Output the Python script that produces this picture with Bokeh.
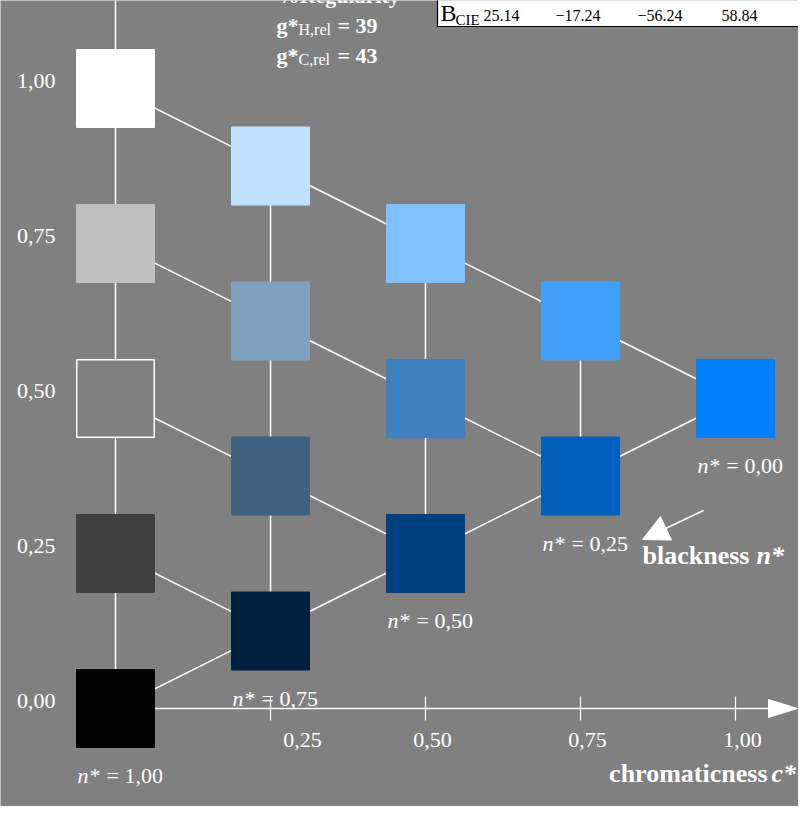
from bokeh.plotting import figure
from bokeh.models import Range1d, Arrow, NormalHead
from bokeh.core.properties import value
from bokeh.embed import file_html
from bokeh.resources import INLINE

# ---------------- data ----------------
chroma = [0.0, 0.0, 0.0, 0.0, 0.0,
          0.25, 0.25, 0.25, 0.25,
          0.5, 0.5, 0.5,
          0.75, 0.75,
          1.0]
lightness = [1.0, 0.75, 0.5, 0.25, 0.0,
             0.875, 0.625, 0.375, 0.125,
             0.75, 0.5, 0.25,
             0.625, 0.375,
             0.5]
blackness = [0.0, 0.25, 0.5, 0.75, 1.0,
             0.0, 0.25, 0.5, 0.75,
             0.0, 0.25, 0.5,
             0.0, 0.25,
             0.0]
colors = ["#ffffff", "#c0c0c0", "#808080", "#404040", "#000000",
          "#c0e0ff", "#80a0c0", "#406080", "#002040",
          "#80c0ff", "#4080c0", "#004080",
          "#40a0ff", "#0060c0",
          "#0080ff"]
x_ticks = [0.25, 0.5, 0.75, 1.0]
y_ticks = [0.0, 0.25, 0.5, 0.75, 1.0]
reg_subscripts = ["H,rel", "C,rel"]
reg_values = [39, 43]
table_values = ["25.14", "\u221217.24", "\u221256.24", "58.84"]

# ---------------- layout helpers (picture pixel -> data) ----------------
BG = "#808080"
FONT = value("Liberation Serif")
X0, Y0, S = 115.0, 708.0, 620.0


def X(px):
    return (px - X0) / S


def Y(py):
    return (Y0 - py) / S


def fmt(v):
    return f"{v:.2f}".replace(".", ",")


W, H = 798, 806
p = figure(width=W, height=H, output_backend="svg", toolbar_location=None,
           x_range=Range1d(X(0), X(W)), y_range=Range1d(Y(H), Y(0)),
           x_axis_type=None, y_axis_type=None, min_border=0,
           background_fill_color=BG, border_fill_color=BG, outline_line_color=None)
p.xgrid.visible = False
p.ygrid.visible = False

# ---------------- connecting lines ----------------
xs, ys = [], []
for c in sorted(set(chroma)):
    ls = [l for cc, l in zip(chroma, lightness) if cc == c]
    if c == 0:
        xs.append([c, c]); ys.append([min(ls), Y(-20)])
    else:
        xs.append([c, c]); ys.append([min(ls), max(ls)])
for n in sorted(set(blackness)):
    pts = sorted((cc, l) for cc, l, nn in zip(chroma, lightness, blackness) if nn == n)
    if len(pts) > 1:
        xs.append([q[0] for q in pts]); ys.append([q[1] for q in pts])
pts = sorted((cc, l) for cc, l, nn in zip(chroma, lightness, blackness)
             if abs(1 - nn - cc) < 1e-9)
xs.append([q[0] for q in pts]); ys.append([q[1] for q in pts])
p.multi_line(xs, ys, line_color="white", line_width=1.5)

# x axis with arrow
p.segment(x0=[0], y0=[0], x1=[X(770)], y1=[0], line_color="white", line_width=1.5)
p.patch([X(768), X(797), X(768)], [Y(699), Y(708), Y(717)], fill_color="white", line_color="white")
p.segment(x0=x_ticks, y0=[Y(696)] * len(x_ticks), x1=x_ticks, y1=[Y(720)] * len(x_ticks),
          line_color="white", line_width=1.2)
nudge = [32, 7, 7, 7]
p.text(x=[t + d / S for t, d in zip(x_ticks, nudge)], y=[Y(739)] * len(x_ticks),
       text=[fmt(t) for t in x_ticks], text_font=FONT, text_font_size="22px",
       text_color="white", text_align="center", text_baseline="alphabetic")
p.text(x=[X(55)] * len(y_ticks), y=[t + 8 / S for t in y_ticks], text=[fmt(t) for t in y_ticks],
       text_font=FONT, text_font_size="22px", text_color="white",
       text_align="right", text_baseline="alphabetic")

# ---------------- squares ----------------
outline = ["white" if col == BG else col for col in colors]
p.rect(x=chroma, y=lightness, width=0.125, height=0.125, fill_color=colors,
       line_color=outline, line_width=1.5)

# ---------------- n* labels ----------------
ends = {}
for cc, l, nn in zip(chroma, lightness, blackness):
    if nn not in ends or cc > ends[nn][0]:
        ends[nn] = (cc, l)
lev = sorted(ends)
p.text(x=[ends[n][0] - 16 / S for n in lev], y=[ends[n][1] - 67 / S for n in lev],
       text=["n*"] * len(lev), text_font=FONT, text_font_size="22px",
       text_font_style="italic", text_color="white", text_align="right",
       text_baseline="alphabetic")
p.text(x=[ends[n][0] - 9 / S for n in lev], y=[ends[n][1] - 67 / S for n in lev],
       text=["= " + fmt(n) for n in lev], text_font=FONT, text_font_size="22px",
       text_color="white", text_align="left", text_baseline="alphabetic")

# blackness arrow and caption
p.add_layout(Arrow(end=NormalHead(size=26, fill_color="white", line_color="white"),
                   x_start=X(703), y_start=Y(510), x_end=X(642), y_end=Y(539),
                   line_color="white", line_width=1.5))
p.text(x=[X(642)], y=[Y(555)], text=["blackness"], text_font=FONT, text_font_size="26px",
       text_font_style="bold", text_color="white", text_baseline="alphabetic")
p.text(x=[X(756)], y=[Y(555)], text=["n*"], text_font=FONT, text_font_size="26px",
       text_font_style="bold italic", text_color="white", text_baseline="alphabetic")
p.text(x=[X(767)], y=[Y(773)], text=["chromaticness"], text_font=FONT, text_font_size="26px",
       text_font_style="bold", text_color="white", text_align="right", text_baseline="alphabetic")
p.text(x=[X(771)], y=[Y(773)], text=["c*"], text_font=FONT, text_font_size="26px",
       text_font_style="bold italic", text_color="white", text_baseline="alphabetic")

# ---------------- regularity block ----------------
p.text(x=[X(277)], y=[Y(-5)], text=["%Regularity"], text_font=FONT, text_font_size="22px",
       text_font_style="bold", text_color="white", text_baseline="alphabetic")
rows = [Y(25), Y(55)]
p.text(x=[X(276)] * 2, y=rows, text=["g*"] * 2, text_font=FONT, text_font_size="22px",
       text_font_style="bold", text_color="white", text_baseline="alphabetic")
p.text(x=[X(298)] * 2, y=[r - 4 / S for r in rows], text=reg_subscripts, text_font=FONT,
       text_font_size="16px", text_color="white", text_baseline="alphabetic")
p.text(x=[X(337)] * 2, y=rows, text=[f"= {v}" for v in reg_values], text_font=FONT,
       text_font_size="22px", text_font_style="bold", text_color="white",
       text_baseline="alphabetic")

# ---------------- table box ----------------
p.quad(left=[X(437)], right=[X(830)], top=[Y(-30)], bottom=[Y(26)],
       fill_color="white", line_color="black", line_width=1.2)
p.text(x=[X(440)], y=[Y(12)], text=["B"], text_font=FONT, text_font_size="24px",
       text_color="black", text_baseline="alphabetic")
p.text(x=[X(455)], y=[Y(19)], text=["CIE"], text_font=FONT, text_font_size="15px",
       text_color="black", text_baseline="alphabetic")
col_px = [483, 555, 637, 721]
p.text(x=[X(v) for v in col_px], y=[Y(15)] * len(table_values), text=table_values,
       text_font=FONT, text_font_size="16px", text_color="black", text_baseline="alphabetic")

open("out.html", "w").write(file_html(p, INLINE))
